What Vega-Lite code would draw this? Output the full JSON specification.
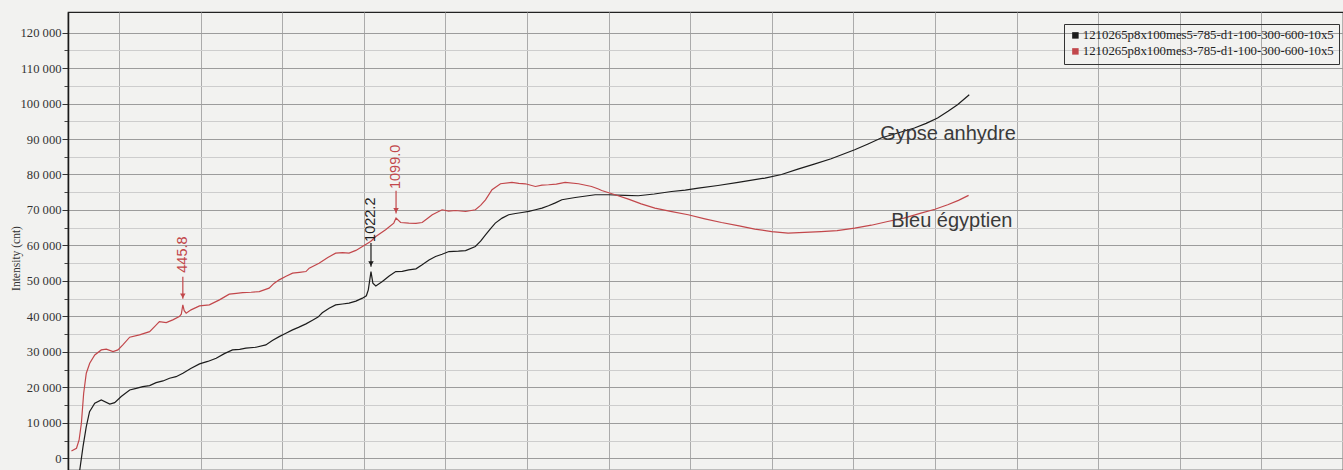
{
  "$schema": "https://vega.github.io/schema/vega-lite/v6.json",
  "width": 1275,
  "height": 458,
  "autosize": {"type": "none"},
  "padding": {"left": 68, "top": 12, "right": 0, "bottom": 0},
  "background": "#f2f2f0",
  "config": {
    "view": {"stroke": "#222222", "strokeWidth": 1.2},
    "axis": {"gridWidth": 1, "labelFont": "Liberation Serif", "labelFontSize": 12.6, "labelColor": "#333333", "titleFont": "Liberation Serif", "titleFontSize": 11.5, "titleFontWeight": "normal", "titleColor": "#333333"},
    "legend": {"labelFont": "Liberation Serif", "labelFontSize": 12.8, "labelColor": "#222222"}
  },
  "datasets": {
    "spectra": [
      {"series": "1210265p8x100mes5-785-d1-100-300-600-10x5", "wavenumber": 125, "intensity": -6500},
      {"series": "1210265p8x100mes5-785-d1-100-300-600-10x5", "wavenumber": 130, "intensity": -3300},
      {"series": "1210265p8x100mes5-785-d1-100-300-600-10x5", "wavenumber": 140, "intensity": 3270},
      {"series": "1210265p8x100mes5-785-d1-100-300-600-10x5", "wavenumber": 150, "intensity": 8900},
      {"series": "1210265p8x100mes5-785-d1-100-300-600-10x5", "wavenumber": 160, "intensity": 13150},
      {"series": "1210265p8x100mes5-785-d1-100-300-600-10x5", "wavenumber": 176, "intensity": 15500},
      {"series": "1210265p8x100mes5-785-d1-100-300-600-10x5", "wavenumber": 196, "intensity": 16450},
      {"series": "1210265p8x100mes5-785-d1-100-300-600-10x5", "wavenumber": 222, "intensity": 15300},
      {"series": "1210265p8x100mes5-785-d1-100-300-600-10x5", "wavenumber": 237, "intensity": 15700},
      {"series": "1210265p8x100mes5-785-d1-100-300-600-10x5", "wavenumber": 257, "intensity": 17400},
      {"series": "1210265p8x100mes5-785-d1-100-300-600-10x5", "wavenumber": 283, "intensity": 19270},
      {"series": "1210265p8x100mes5-785-d1-100-300-600-10x5", "wavenumber": 303, "intensity": 19700},
      {"series": "1210265p8x100mes5-785-d1-100-300-600-10x5", "wavenumber": 323, "intensity": 20200},
      {"series": "1210265p8x100mes5-785-d1-100-300-600-10x5", "wavenumber": 344, "intensity": 20500},
      {"series": "1210265p8x100mes5-785-d1-100-300-600-10x5", "wavenumber": 364, "intensity": 21330},
      {"series": "1210265p8x100mes5-785-d1-100-300-600-10x5", "wavenumber": 385, "intensity": 21800},
      {"series": "1210265p8x100mes5-785-d1-100-300-600-10x5", "wavenumber": 405, "intensity": 22570},
      {"series": "1210265p8x100mes5-785-d1-100-300-600-10x5", "wavenumber": 425, "intensity": 23000},
      {"series": "1210265p8x100mes5-785-d1-100-300-600-10x5", "wavenumber": 446, "intensity": 23980},
      {"series": "1210265p8x100mes5-785-d1-100-300-600-10x5", "wavenumber": 470, "intensity": 25300},
      {"series": "1210265p8x100mes5-785-d1-100-300-600-10x5", "wavenumber": 497, "intensity": 26600},
      {"series": "1210265p8x100mes5-785-d1-100-300-600-10x5", "wavenumber": 522, "intensity": 27300},
      {"series": "1210265p8x100mes5-785-d1-100-300-600-10x5", "wavenumber": 548, "intensity": 28200},
      {"series": "1210265p8x100mes5-785-d1-100-300-600-10x5", "wavenumber": 573, "intensity": 29500},
      {"series": "1210265p8x100mes5-785-d1-100-300-600-10x5", "wavenumber": 598, "intensity": 30550},
      {"series": "1210265p8x100mes5-785-d1-100-300-600-10x5", "wavenumber": 620, "intensity": 30700},
      {"series": "1210265p8x100mes5-785-d1-100-300-600-10x5", "wavenumber": 639, "intensity": 31030},
      {"series": "1210265p8x100mes5-785-d1-100-300-600-10x5", "wavenumber": 670, "intensity": 31300},
      {"series": "1210265p8x100mes5-785-d1-100-300-600-10x5", "wavenumber": 700, "intensity": 31960},
      {"series": "1210265p8x100mes5-785-d1-100-300-600-10x5", "wavenumber": 720, "intensity": 33200},
      {"series": "1210265p8x100mes5-785-d1-100-300-600-10x5", "wavenumber": 741, "intensity": 34300},
      {"series": "1210265p8x100mes5-785-d1-100-300-600-10x5", "wavenumber": 760, "intensity": 35200},
      {"series": "1210265p8x100mes5-785-d1-100-300-600-10x5", "wavenumber": 782, "intensity": 36190},
      {"series": "1210265p8x100mes5-785-d1-100-300-600-10x5", "wavenumber": 800, "intensity": 36900},
      {"series": "1210265p8x100mes5-785-d1-100-300-600-10x5", "wavenumber": 823, "intensity": 37890},
      {"series": "1210265p8x100mes5-785-d1-100-300-600-10x5", "wavenumber": 843, "intensity": 38900},
      {"series": "1210265p8x100mes5-785-d1-100-300-600-10x5", "wavenumber": 860, "intensity": 39800},
      {"series": "1210265p8x100mes5-785-d1-100-300-600-10x5", "wavenumber": 873, "intensity": 41000},
      {"series": "1210265p8x100mes5-785-d1-100-300-600-10x5", "wavenumber": 894, "intensity": 42300},
      {"series": "1210265p8x100mes5-785-d1-100-300-600-10x5", "wavenumber": 914, "intensity": 43250},
      {"series": "1210265p8x100mes5-785-d1-100-300-600-10x5", "wavenumber": 935, "intensity": 43500},
      {"series": "1210265p8x100mes5-785-d1-100-300-600-10x5", "wavenumber": 955, "intensity": 43730},
      {"series": "1210265p8x100mes5-785-d1-100-300-600-10x5", "wavenumber": 976, "intensity": 44300},
      {"series": "1210265p8x100mes5-785-d1-100-300-600-10x5", "wavenumber": 996, "intensity": 45140},
      {"series": "1210265p8x100mes5-785-d1-100-300-600-10x5", "wavenumber": 1008, "intensity": 45800},
      {"series": "1210265p8x100mes5-785-d1-100-300-600-10x5", "wavenumber": 1014, "intensity": 47480},
      {"series": "1210265p8x100mes5-785-d1-100-300-600-10x5", "wavenumber": 1022.2, "intensity": 52600},
      {"series": "1210265p8x100mes5-785-d1-100-300-600-10x5", "wavenumber": 1028, "intensity": 49370},
      {"series": "1210265p8x100mes5-785-d1-100-300-600-10x5", "wavenumber": 1037, "intensity": 48600},
      {"series": "1210265p8x100mes5-785-d1-100-300-600-10x5", "wavenumber": 1057, "intensity": 49820},
      {"series": "1210265p8x100mes5-785-d1-100-300-600-10x5", "wavenumber": 1078, "intensity": 51400},
      {"series": "1210265p8x100mes5-785-d1-100-300-600-10x5", "wavenumber": 1098, "intensity": 52640},
      {"series": "1210265p8x100mes5-785-d1-100-300-600-10x5", "wavenumber": 1118, "intensity": 52700},
      {"series": "1210265p8x100mes5-785-d1-100-300-600-10x5", "wavenumber": 1138, "intensity": 53120},
      {"series": "1210265p8x100mes5-785-d1-100-300-600-10x5", "wavenumber": 1160, "intensity": 53400},
      {"series": "1210265p8x100mes5-785-d1-100-300-600-10x5", "wavenumber": 1179, "intensity": 54530},
      {"series": "1210265p8x100mes5-785-d1-100-300-600-10x5", "wavenumber": 1200, "intensity": 55900},
      {"series": "1210265p8x100mes5-785-d1-100-300-600-10x5", "wavenumber": 1220, "intensity": 56870},
      {"series": "1210265p8x100mes5-785-d1-100-300-600-10x5", "wavenumber": 1240, "intensity": 57500},
      {"series": "1210265p8x100mes5-785-d1-100-300-600-10x5", "wavenumber": 1261, "intensity": 58280},
      {"series": "1210265p8x100mes5-785-d1-100-300-600-10x5", "wavenumber": 1290, "intensity": 58400},
      {"series": "1210265p8x100mes5-785-d1-100-300-600-10x5", "wavenumber": 1312, "intensity": 58560},
      {"series": "1210265p8x100mes5-785-d1-100-300-600-10x5", "wavenumber": 1342, "intensity": 59690},
      {"series": "1210265p8x100mes5-785-d1-100-300-600-10x5", "wavenumber": 1358, "intensity": 61200},
      {"series": "1210265p8x100mes5-785-d1-100-300-600-10x5", "wavenumber": 1373, "intensity": 62990},
      {"series": "1210265p8x100mes5-785-d1-100-300-600-10x5", "wavenumber": 1388, "intensity": 64700},
      {"series": "1210265p8x100mes5-785-d1-100-300-600-10x5", "wavenumber": 1403, "intensity": 66290},
      {"series": "1210265p8x100mes5-785-d1-100-300-600-10x5", "wavenumber": 1424, "intensity": 67700},
      {"series": "1210265p8x100mes5-785-d1-100-300-600-10x5", "wavenumber": 1444, "intensity": 68640},
      {"series": "1210265p8x100mes5-785-d1-100-300-600-10x5", "wavenumber": 1465, "intensity": 69000},
      {"series": "1210265p8x100mes5-785-d1-100-300-600-10x5", "wavenumber": 1485, "intensity": 69280},
      {"series": "1210265p8x100mes5-785-d1-100-300-600-10x5", "wavenumber": 1506, "intensity": 69600},
      {"series": "1210265p8x100mes5-785-d1-100-300-600-10x5", "wavenumber": 1526, "intensity": 70050},
      {"series": "1210265p8x100mes5-785-d1-100-300-600-10x5", "wavenumber": 1546, "intensity": 70500},
      {"series": "1210265p8x100mes5-785-d1-100-300-600-10x5", "wavenumber": 1566, "intensity": 71170},
      {"series": "1210265p8x100mes5-785-d1-100-300-600-10x5", "wavenumber": 1587, "intensity": 72000},
      {"series": "1210265p8x100mes5-785-d1-100-300-600-10x5", "wavenumber": 1607, "intensity": 72870},
      {"series": "1210265p8x100mes5-785-d1-100-300-600-10x5", "wavenumber": 1648, "intensity": 73520},
      {"series": "1210265p8x100mes5-785-d1-100-300-600-10x5", "wavenumber": 1709, "intensity": 74280},
      {"series": "1210265p8x100mes5-785-d1-100-300-600-10x5", "wavenumber": 1750, "intensity": 74280},
      {"series": "1210265p8x100mes5-785-d1-100-300-600-10x5", "wavenumber": 1800, "intensity": 74100},
      {"series": "1210265p8x100mes5-785-d1-100-300-600-10x5", "wavenumber": 1841, "intensity": 74000},
      {"series": "1210265p8x100mes5-785-d1-100-300-600-10x5", "wavenumber": 1890, "intensity": 74500},
      {"series": "1210265p8x100mes5-785-d1-100-300-600-10x5", "wavenumber": 1943, "intensity": 75210},
      {"series": "1210265p8x100mes5-785-d1-100-300-600-10x5", "wavenumber": 1985, "intensity": 75600},
      {"series": "1210265p8x100mes5-785-d1-100-300-600-10x5", "wavenumber": 2025, "intensity": 76170},
      {"series": "1210265p8x100mes5-785-d1-100-300-600-10x5", "wavenumber": 2085, "intensity": 76900},
      {"series": "1210265p8x100mes5-785-d1-100-300-600-10x5", "wavenumber": 2147, "intensity": 77750},
      {"series": "1210265p8x100mes5-785-d1-100-300-600-10x5", "wavenumber": 2229, "intensity": 78990},
      {"series": "1210265p8x100mes5-785-d1-100-300-600-10x5", "wavenumber": 2280, "intensity": 80000},
      {"series": "1210265p8x100mes5-785-d1-100-300-600-10x5", "wavenumber": 2330, "intensity": 81500},
      {"series": "1210265p8x100mes5-785-d1-100-300-600-10x5", "wavenumber": 2380, "intensity": 82900},
      {"series": "1210265p8x100mes5-785-d1-100-300-600-10x5", "wavenumber": 2432, "intensity": 84430},
      {"series": "1210265p8x100mes5-785-d1-100-300-600-10x5", "wavenumber": 2504, "intensity": 86970},
      {"series": "1210265p8x100mes5-785-d1-100-300-600-10x5", "wavenumber": 2545, "intensity": 88600},
      {"series": "1210265p8x100mes5-785-d1-100-300-600-10x5", "wavenumber": 2585, "intensity": 90270},
      {"series": "1210265p8x100mes5-785-d1-100-300-600-10x5", "wavenumber": 2636, "intensity": 91700},
      {"series": "1210265p8x100mes5-785-d1-100-300-600-10x5", "wavenumber": 2687, "intensity": 93090},
      {"series": "1210265p8x100mes5-785-d1-100-300-600-10x5", "wavenumber": 2723, "intensity": 94400},
      {"series": "1210265p8x100mes5-785-d1-100-300-600-10x5", "wavenumber": 2758, "intensity": 95910},
      {"series": "1210265p8x100mes5-785-d1-100-300-600-10x5", "wavenumber": 2790, "intensity": 97800},
      {"series": "1210265p8x100mes5-785-d1-100-300-600-10x5", "wavenumber": 2819, "intensity": 99670},
      {"series": "1210265p8x100mes5-785-d1-100-300-600-10x5", "wavenumber": 2855, "intensity": 102490},
      {"series": "1210265p8x100mes3-785-d1-100-300-600-10x5", "wavenumber": 104.5, "intensity": 2060},
      {"series": "1210265p8x100mes3-785-d1-100-300-600-10x5", "wavenumber": 120, "intensity": 2820},
      {"series": "1210265p8x100mes3-785-d1-100-300-600-10x5", "wavenumber": 128, "intensity": 5160},
      {"series": "1210265p8x100mes3-785-d1-100-300-600-10x5", "wavenumber": 135, "intensity": 9870},
      {"series": "1210265p8x100mes3-785-d1-100-300-600-10x5", "wavenumber": 142, "intensity": 18340},
      {"series": "1210265p8x100mes3-785-d1-100-300-600-10x5", "wavenumber": 150, "intensity": 23980},
      {"series": "1210265p8x100mes3-785-d1-100-300-600-10x5", "wavenumber": 160.5, "intensity": 26800},
      {"series": "1210265p8x100mes3-785-d1-100-300-600-10x5", "wavenumber": 176, "intensity": 29140},
      {"series": "1210265p8x100mes3-785-d1-100-300-600-10x5", "wavenumber": 196, "intensity": 30550},
      {"series": "1210265p8x100mes3-785-d1-100-300-600-10x5", "wavenumber": 211.5, "intensity": 30750},
      {"series": "1210265p8x100mes3-785-d1-100-300-600-10x5", "wavenumber": 232, "intensity": 30070},
      {"series": "1210265p8x100mes3-785-d1-100-300-600-10x5", "wavenumber": 247, "intensity": 30550},
      {"series": "1210265p8x100mes3-785-d1-100-300-600-10x5", "wavenumber": 262, "intensity": 31960},
      {"series": "1210265p8x100mes3-785-d1-100-300-600-10x5", "wavenumber": 283, "intensity": 34130},
      {"series": "1210265p8x100mes3-785-d1-100-300-600-10x5", "wavenumber": 313, "intensity": 34780},
      {"series": "1210265p8x100mes3-785-d1-100-300-600-10x5", "wavenumber": 344, "intensity": 35710},
      {"series": "1210265p8x100mes3-785-d1-100-300-600-10x5", "wavenumber": 360, "intensity": 37200},
      {"series": "1210265p8x100mes3-785-d1-100-300-600-10x5", "wavenumber": 374, "intensity": 38540},
      {"series": "1210265p8x100mes3-785-d1-100-300-600-10x5", "wavenumber": 395, "intensity": 38250},
      {"series": "1210265p8x100mes3-785-d1-100-300-600-10x5", "wavenumber": 415, "intensity": 39010},
      {"series": "1210265p8x100mes3-785-d1-100-300-600-10x5", "wavenumber": 435, "intensity": 39950},
      {"series": "1210265p8x100mes3-785-d1-100-300-600-10x5", "wavenumber": 441, "intensity": 40600},
      {"series": "1210265p8x100mes3-785-d1-100-300-600-10x5", "wavenumber": 445.8, "intensity": 43250},
      {"series": "1210265p8x100mes3-785-d1-100-300-600-10x5", "wavenumber": 450, "intensity": 41600},
      {"series": "1210265p8x100mes3-785-d1-100-300-600-10x5", "wavenumber": 456, "intensity": 40900},
      {"series": "1210265p8x100mes3-785-d1-100-300-600-10x5", "wavenumber": 471, "intensity": 41840},
      {"series": "1210265p8x100mes3-785-d1-100-300-600-10x5", "wavenumber": 497, "intensity": 42960},
      {"series": "1210265p8x100mes3-785-d1-100-300-600-10x5", "wavenumber": 527, "intensity": 43250},
      {"series": "1210265p8x100mes3-785-d1-100-300-600-10x5", "wavenumber": 558, "intensity": 44660},
      {"series": "1210265p8x100mes3-785-d1-100-300-600-10x5", "wavenumber": 588, "intensity": 46260},
      {"series": "1210265p8x100mes3-785-d1-100-300-600-10x5", "wavenumber": 610, "intensity": 46500},
      {"series": "1210265p8x100mes3-785-d1-100-300-600-10x5", "wavenumber": 629, "intensity": 46720},
      {"series": "1210265p8x100mes3-785-d1-100-300-600-10x5", "wavenumber": 655, "intensity": 46800},
      {"series": "1210265p8x100mes3-785-d1-100-300-600-10x5", "wavenumber": 680, "intensity": 47000},
      {"series": "1210265p8x100mes3-785-d1-100-300-600-10x5", "wavenumber": 710, "intensity": 47960},
      {"series": "1210265p8x100mes3-785-d1-100-300-600-10x5", "wavenumber": 725, "intensity": 49300},
      {"series": "1210265p8x100mes3-785-d1-100-300-600-10x5", "wavenumber": 741, "intensity": 50300},
      {"series": "1210265p8x100mes3-785-d1-100-300-600-10x5", "wavenumber": 762, "intensity": 51300},
      {"series": "1210265p8x100mes3-785-d1-100-300-600-10x5", "wavenumber": 782, "intensity": 52190},
      {"series": "1210265p8x100mes3-785-d1-100-300-600-10x5", "wavenumber": 803, "intensity": 52400},
      {"series": "1210265p8x100mes3-785-d1-100-300-600-10x5", "wavenumber": 823, "intensity": 52640},
      {"series": "1210265p8x100mes3-785-d1-100-300-600-10x5", "wavenumber": 833, "intensity": 53600},
      {"series": "1210265p8x100mes3-785-d1-100-300-600-10x5", "wavenumber": 863, "intensity": 55000},
      {"series": "1210265p8x100mes3-785-d1-100-300-600-10x5", "wavenumber": 890, "intensity": 56600},
      {"series": "1210265p8x100mes3-785-d1-100-300-600-10x5", "wavenumber": 914, "intensity": 57830},
      {"series": "1210265p8x100mes3-785-d1-100-300-600-10x5", "wavenumber": 935, "intensity": 58000},
      {"series": "1210265p8x100mes3-785-d1-100-300-600-10x5", "wavenumber": 955, "intensity": 57830},
      {"series": "1210265p8x100mes3-785-d1-100-300-600-10x5", "wavenumber": 976, "intensity": 58600},
      {"series": "1210265p8x100mes3-785-d1-100-300-600-10x5", "wavenumber": 996, "intensity": 59690},
      {"series": "1210265p8x100mes3-785-d1-100-300-600-10x5", "wavenumber": 1021, "intensity": 61100},
      {"series": "1210265p8x100mes3-785-d1-100-300-600-10x5", "wavenumber": 1037, "intensity": 62510},
      {"series": "1210265p8x100mes3-785-d1-100-300-600-10x5", "wavenumber": 1067, "intensity": 64400},
      {"series": "1210265p8x100mes3-785-d1-100-300-600-10x5", "wavenumber": 1092, "intensity": 66290},
      {"series": "1210265p8x100mes3-785-d1-100-300-600-10x5", "wavenumber": 1099, "intensity": 67700},
      {"series": "1210265p8x100mes3-785-d1-100-300-600-10x5", "wavenumber": 1113, "intensity": 66460},
      {"series": "1210265p8x100mes3-785-d1-100-300-600-10x5", "wavenumber": 1138, "intensity": 66290},
      {"series": "1210265p8x100mes3-785-d1-100-300-600-10x5", "wavenumber": 1160, "intensity": 66200},
      {"series": "1210265p8x100mes3-785-d1-100-300-600-10x5", "wavenumber": 1179, "intensity": 66460},
      {"series": "1210265p8x100mes3-785-d1-100-300-600-10x5", "wavenumber": 1195, "intensity": 67600},
      {"series": "1210265p8x100mes3-785-d1-100-300-600-10x5", "wavenumber": 1210, "intensity": 68640},
      {"series": "1210265p8x100mes3-785-d1-100-300-600-10x5", "wavenumber": 1240, "intensity": 70050},
      {"series": "1210265p8x100mes3-785-d1-100-300-600-10x5", "wavenumber": 1260, "intensity": 69700},
      {"series": "1210265p8x100mes3-785-d1-100-300-600-10x5", "wavenumber": 1281, "intensity": 69850},
      {"series": "1210265p8x100mes3-785-d1-100-300-600-10x5", "wavenumber": 1312, "intensity": 69570},
      {"series": "1210265p8x100mes3-785-d1-100-300-600-10x5", "wavenumber": 1342, "intensity": 70050},
      {"series": "1210265p8x100mes3-785-d1-100-300-600-10x5", "wavenumber": 1358, "intensity": 71300},
      {"series": "1210265p8x100mes3-785-d1-100-300-600-10x5", "wavenumber": 1373, "intensity": 72870},
      {"series": "1210265p8x100mes3-785-d1-100-300-600-10x5", "wavenumber": 1393, "intensity": 75690},
      {"series": "1210265p8x100mes3-785-d1-100-300-600-10x5", "wavenumber": 1419, "intensity": 77380},
      {"series": "1210265p8x100mes3-785-d1-100-300-600-10x5", "wavenumber": 1454, "intensity": 77750},
      {"series": "1210265p8x100mes3-785-d1-100-300-600-10x5", "wavenumber": 1475, "intensity": 77500},
      {"series": "1210265p8x100mes3-785-d1-100-300-600-10x5", "wavenumber": 1495, "intensity": 77380},
      {"series": "1210265p8x100mes3-785-d1-100-300-600-10x5", "wavenumber": 1526, "intensity": 76620},
      {"series": "1210265p8x100mes3-785-d1-100-300-600-10x5", "wavenumber": 1546, "intensity": 77000},
      {"series": "1210265p8x100mes3-785-d1-100-300-600-10x5", "wavenumber": 1566, "intensity": 77100},
      {"series": "1210265p8x100mes3-785-d1-100-300-600-10x5", "wavenumber": 1590, "intensity": 77300},
      {"series": "1210265p8x100mes3-785-d1-100-300-600-10x5", "wavenumber": 1617, "intensity": 77750},
      {"series": "1210265p8x100mes3-785-d1-100-300-600-10x5", "wavenumber": 1658, "intensity": 77380},
      {"series": "1210265p8x100mes3-785-d1-100-300-600-10x5", "wavenumber": 1698, "intensity": 76620},
      {"series": "1210265p8x100mes3-785-d1-100-300-600-10x5", "wavenumber": 1719, "intensity": 75890},
      {"series": "1210265p8x100mes3-785-d1-100-300-600-10x5", "wavenumber": 1729, "intensity": 75490},
      {"series": "1210265p8x100mes3-785-d1-100-300-600-10x5", "wavenumber": 1770, "intensity": 74280},
      {"series": "1210265p8x100mes3-785-d1-100-300-600-10x5", "wavenumber": 1811, "intensity": 73060},
      {"series": "1210265p8x100mes3-785-d1-100-300-600-10x5", "wavenumber": 1850, "intensity": 71700},
      {"series": "1210265p8x100mes3-785-d1-100-300-600-10x5", "wavenumber": 1892, "intensity": 70530},
      {"series": "1210265p8x100mes3-785-d1-100-300-600-10x5", "wavenumber": 1940, "intensity": 69600},
      {"series": "1210265p8x100mes3-785-d1-100-300-600-10x5", "wavenumber": 1994, "intensity": 68640},
      {"series": "1210265p8x100mes3-785-d1-100-300-600-10x5", "wavenumber": 2045, "intensity": 67500},
      {"series": "1210265p8x100mes3-785-d1-100-300-600-10x5", "wavenumber": 2096, "intensity": 66460},
      {"series": "1210265p8x100mes3-785-d1-100-300-600-10x5", "wavenumber": 2150, "intensity": 65500},
      {"series": "1210265p8x100mes3-785-d1-100-300-600-10x5", "wavenumber": 2198, "intensity": 64600},
      {"series": "1210265p8x100mes3-785-d1-100-300-600-10x5", "wavenumber": 2250, "intensity": 63900},
      {"series": "1210265p8x100mes3-785-d1-100-300-600-10x5", "wavenumber": 2300, "intensity": 63470},
      {"series": "1210265p8x100mes3-785-d1-100-300-600-10x5", "wavenumber": 2350, "intensity": 63700},
      {"series": "1210265p8x100mes3-785-d1-100-300-600-10x5", "wavenumber": 2401, "intensity": 63920},
      {"series": "1210265p8x100mes3-785-d1-100-300-600-10x5", "wavenumber": 2450, "intensity": 64200},
      {"series": "1210265p8x100mes3-785-d1-100-300-600-10x5", "wavenumber": 2504, "intensity": 64880},
      {"series": "1210265p8x100mes3-785-d1-100-300-600-10x5", "wavenumber": 2555, "intensity": 65700},
      {"series": "1210265p8x100mes3-785-d1-100-300-600-10x5", "wavenumber": 2605, "intensity": 66750},
      {"series": "1210265p8x100mes3-785-d1-100-300-600-10x5", "wavenumber": 2655, "intensity": 67700},
      {"series": "1210265p8x100mes3-785-d1-100-300-600-10x5", "wavenumber": 2707, "intensity": 69120},
      {"series": "1210265p8x100mes3-785-d1-100-300-600-10x5", "wavenumber": 2750, "intensity": 70200},
      {"series": "1210265p8x100mes3-785-d1-100-300-600-10x5", "wavenumber": 2789, "intensity": 71460},
      {"series": "1210265p8x100mes3-785-d1-100-300-600-10x5", "wavenumber": 2822, "intensity": 72700},
      {"series": "1210265p8x100mes3-785-d1-100-300-600-10x5", "wavenumber": 2853, "intensity": 74100}
    ],
    "peaks": [
      {"series": "1210265p8x100mes3-785-d1-100-300-600-10x5", "label": "445.8", "wavenumber": 445.8, "textAt": 52300, "arrowTop": 51200, "arrowBottom": 45000, "headAt": 45800},
      {"series": "1210265p8x100mes5-785-d1-100-300-600-10x5", "label": "1022.2", "wavenumber": 1022.2, "textAt": 61000, "arrowTop": 60700, "arrowBottom": 54000, "headAt": 54900},
      {"series": "1210265p8x100mes3-785-d1-100-300-600-10x5", "label": "1099.0", "wavenumber": 1099.0, "textAt": 75900, "arrowTop": 75400, "arrowBottom": 69000, "headAt": 69900}
    ],
    "names": [
      {"name": "Gypse anhydre", "wavenumber": 2582, "intensity": 91500},
      {"name": "Bleu égyptien", "wavenumber": 2616, "intensity": 66900}
    ]
  },
  "layer": [
    {
      "data": {"name": "peaks"},
      "mark": {"type": "rule", "strokeWidth": 1.2},
      "encoding": {
        "x": {"field": "wavenumber", "type": "quantitative", "scale": {"domain": [94, 4000], "nice": false, "zero": false}, "axis": null},
        "y": {"field": "arrowTop", "type": "quantitative", "scale": {"domain": [-3300, 125800], "nice": false, "zero": false},
          "axis": {"orient": "left", "values": [5000, 15000, 25000, 35000, 45000, 55000, 65000, 75000, 85000, 95000, 105000, 115000], "labels": false, "tickSize": 4, "tickColor": "#444444", "domain": false, "grid": true, "gridColor": "#cdcdcd", "title": null}},
        "y2": {"field": "arrowBottom"},
        "color": {"field": "series", "type": "nominal",
          "scale": {"domain": ["1210265p8x100mes5-785-d1-100-300-600-10x5", "1210265p8x100mes3-785-d1-100-300-600-10x5"], "range": ["#1c1c1c", "#c2474b"]},
          "legend": {"title": null, "orient": "none", "legendX": 996, "legendY": 12, "direction": "vertical",
            "symbolType": "square", "symbolSize": 42, "symbolStrokeWidth": 0,
            "labelFont": "Liberation Serif", "labelFontSize": 12.8, "labelColor": "#222222", "labelOffset": 1, "labelLimit": 400,
            "strokeColor": "#333333", "padding": 5, "rowPadding": 2,
            "encode": {"symbols": {"update": {"fill": {"scale": "color", "field": "value"}, "strokeWidth": {"value": 0}}}}}
        }
      }
    },
    {
      "data": {"name": "spectra"},
      "mark": {"type": "line", "strokeWidth": 1.2, "clip": true},
      "encoding": {
        "x": {"field": "wavenumber", "type": "quantitative", "scale": {"domain": [94, 4000], "nice": false, "zero": false},
          "axis": {"values": [250, 500, 750, 1000, 1250, 1500, 1750, 2000, 2250, 2500, 2750, 3000, 3250, 3500, 3750], "grid": true, "gridColor": "#ababab", "labels": false, "ticks": false, "domain": false, "title": null}},
        "y": {"field": "intensity", "type": "quantitative", "scale": {"domain": [-3300, 125800], "nice": false, "zero": false},
          "axis": {"orient": "left", "values": [0, 10000, 20000, 30000, 40000, 50000, 60000, 70000, 80000, 90000, 100000, 110000, 120000],
            "labelExpr": "replace(format(datum.value, ','), ',', ' ')",
            "labelFont": "Liberation Serif", "labelFontSize": 12.6, "labelColor": "#333333", "labelPadding": 1,
            "tickSize": 6, "tickColor": "#333333", "domainColor": "#1a1a1a", "domainWidth": 1.5,
            "grid": true, "gridColor": "#9c9c9c",
            "title": "Intensity (cnt)", "titleFont": "Liberation Serif", "titleFontSize": 11.5, "titleFontWeight": "normal", "titleColor": "#333333",
            "titleAngle": 270, "titleBaseline": "bottom", "titleAlign": "center", "titleX": -47, "titleY": 246}},
        "color": {"field": "series", "type": "nominal"}
      }
    },
    {
      "data": {"name": "peaks"},
      "mark": {"type": "point", "shape": "triangle-down", "filled": true, "size": 30, "opacity": 1},
      "encoding": {
        "x": {"field": "wavenumber", "type": "quantitative", "axis": null},
        "y": {"field": "headAt", "type": "quantitative", "axis": null},
        "color": {"field": "series", "type": "nominal"}
      }
    },
    {
      "data": {"name": "peaks"},
      "mark": {"type": "text", "angle": 270, "align": "left", "baseline": "middle", "font": "Liberation Sans", "fontSize": 14.5},
      "encoding": {
        "x": {"field": "wavenumber", "type": "quantitative", "axis": null},
        "y": {"field": "textAt", "type": "quantitative", "axis": null},
        "text": {"field": "label"},
        "color": {"field": "series", "type": "nominal"}
      }
    },
    {
      "data": {"name": "names"},
      "mark": {"type": "text", "align": "left", "baseline": "middle", "font": "Liberation Sans", "fontSize": 20, "color": "#3a3a3a"},
      "encoding": {
        "x": {"field": "wavenumber", "type": "quantitative", "axis": null},
        "y": {"field": "intensity", "type": "quantitative", "axis": null},
        "text": {"field": "name"}
      }
    }
  ],
  "resolve": {"axis": {"x": "independent", "y": "independent"}}
}
